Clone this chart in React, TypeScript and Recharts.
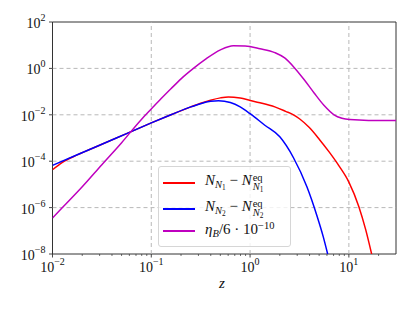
import React from "react";
import { LineChart, Line, XAxis, YAxis, ReferenceLine, ReferenceArea } from "recharts";

// values
const zN1 = [0.01, 0.0126, 0.0178, 0.0316, 0.0562, 0.1, 0.158, 0.251, 0.316, 0.398, 0.501, 0.603, 0.794, 1, 1.26, 1.78, 2.29, 2.75, 3.16, 3.98, 5.01, 6.31, 7.94, 10, 12.6, 14.8, 17];
const valN1 = [4.27e-5, 8.9e-5, 1.86e-4, 5.37e-4, 1.55e-3, 4.47e-3, 1.0e-2, 2.19e-2, 3.16e-2, 4.27e-2, 5.37e-2, 5.89e-2, 5.25e-2, 4.17e-2, 3.31e-2, 2.19e-2, 1.41e-2, 1.0e-2, 6.76e-3, 2.82e-3, 8.9e-4, 2.51e-4, 6.3e-5, 1.26e-5, 1.12e-6, 1.12e-7, 1e-8];

const zN2 = [0.01, 0.0178, 0.0316, 0.0562, 0.1, 0.158, 0.251, 0.316, 0.398, 0.479, 0.631, 0.794, 1, 1.41, 2.0, 2.75, 3.76, 4.75, 5.5, 6.1];
const valN2 = [6.6e-5, 1.9e-4, 5.37e-4, 1.55e-3, 4.47e-3, 1.0e-2, 2.19e-2, 3.02e-2, 3.8e-2, 4.07e-2, 3.39e-2, 2.19e-2, 1.12e-2, 3.55e-3, 1.12e-3, 1.41e-4, 7.9e-6, 4.47e-7, 5.6e-8, 1e-8];

const zEta = [0.01, 0.0126, 0.02, 0.0316, 0.0501, 0.0794, 0.1, 0.126, 0.158, 0.2, 0.267, 0.355, 0.501, 0.676, 0.891, 1.26, 1.78, 2.24, 2.82, 3.55, 4.47, 5.62, 7.08, 8.51, 10.2, 15.8, 30];
const valEta = [3.55e-7, 1e-6, 7.9e-6, 7.1e-5, 6.3e-4, 6.3e-3, 1.78e-2, 5.0e-2, 0.132, 0.355, 1.0, 2.51, 6.3, 9.55, 9.33, 7.08, 4.79, 2.82, 1.05, 0.316, 0.085, 0.0251, 0.01, 0.0071, 0.0062, 0.00575, 0.00575];

const xMajor = [0.01, 0.1, 1, 10];
const xMinor = [0.02, 0.03, 0.04, 0.05, 0.06, 0.07, 0.08, 0.09, 0.2, 0.3, 0.4, 0.5, 0.6, 0.7, 0.8, 0.9, 2, 3, 4, 5, 6, 7, 8, 9, 20];
const yMajor = [1e-8, 1e-6, 1e-4, 1e-2, 1, 100];

const toRows = (zs: number[], vs: number[]) => zs.map((z, i) => ({ z, v: vs[i] }));
const dataN1 = toRows(zN1, valN1);
const dataN2 = toRows(zN2, valN2);
const dataEta = toRows(zEta, valEta);

const FONT = "'Liberation Serif', 'DejaVu Serif', serif";
const AXIS = "#333";

const expLabel = (e: number) => (e < 0 ? "\u2212" + Math.abs(e) : String(e));

const XTick = (props: any) => {
  const { x, y, payload } = props;
  const e = Math.log10(payload.value);
  const major = Math.abs(e - Math.round(e)) < 1e-6;
  return (
    <g>
      <line x1={x} x2={x} y1={y} y2={y + (major ? 3.5 : 2)} stroke={AXIS} strokeWidth={major ? 0.9 : 0.7} />
      {major && (
        <text x={x} y={y + 18} textAnchor="middle" fontFamily={FONT} fontSize={14} fill="#111">
          10<tspan dy={-7} fontSize={10}>{expLabel(Math.round(e))}</tspan>
        </text>
      )}
    </g>
  );
};

const YTick = (props: any) => {
  const { x, y, payload } = props;
  const e = Math.round(Math.log10(payload.value));
  return (
    <g>
      <line x1={x - 3.5} x2={x} y1={y} y2={y} stroke={AXIS} strokeWidth={0.9} />
      <text x={x - 7} y={y + 6} textAnchor="end" fontFamily={FONT} fontSize={14} fill="#111">
        10<tspan dy={-7} fontSize={10}>{expLabel(e)}</tspan>
      </text>
    </g>
  );
};

const Stack = ({ sup, sub }: { sup: React.ReactNode; sub: React.ReactNode }) => (
  <span style={{ display: "inline-flex", flexDirection: "column", verticalAlign: "0.38em", fontSize: "0.7em", lineHeight: 0.9, marginLeft: 1 }}>
    <span>{sup}</span>
    <span>{sub}</span>
  </span>
);

const Sub = ({ children }: { children: React.ReactNode }) => (
  <span style={{ fontSize: "0.7em", verticalAlign: "-0.3em" }}>{children}</span>
);

const legendItems = [
  {
    color: "#ff0000",
    top: 16,
    label: (
      <>
        <i>N</i>
        <Sub><i>N</i><Sub>1</Sub></Sub>
        {" \u2212 "}
        <i>N</i>
        <Stack sup="eq" sub={<><i>N</i><Sub>1</Sub></>} />
      </>
    ),
  },
  {
    color: "#0000ff",
    top: 41.5,
    label: (
      <>
        <i>N</i>
        <Sub><i>N</i><Sub>2</Sub></Sub>
        {" \u2212 "}
        <i>N</i>
        <Stack sup="eq" sub={<><i>N</i><Sub>2</Sub></>} />
      </>
    ),
  },
  {
    color: "#bf00bf",
    top: 64,
    label: (
      <>
        <i>η</i>
        <Sub><i>B</i></Sub>
        /6 · 10
        <span style={{ fontSize: "0.7em", verticalAlign: "0.5em" }}>{"\u2212"}10</span>
      </>
    ),
  },
];

const ChartLegend = () => (
  <div
    style={{
      position: "absolute",
      left: 158,
      top: 166,
      width: 131,
      height: 79,
      border: "1px solid #d6d6d6",
      borderRadius: 3,
      background: "rgba(255,255,255,0.8)",
      fontFamily: FONT,
      fontSize: 15,
      color: "#111",
    }}
  >
    {legendItems.map((it, i) => (
      <div key={i}>
        <div style={{ position: "absolute", left: 4, top: it.top - 1, width: 32, height: 2, background: it.color }} />
        <div style={{ position: "absolute", left: 46, top: it.top - 10, lineHeight: 1, whiteSpace: "nowrap" }}>{it.label}</div>
      </div>
    ))}
  </div>
);

export default function App() {
  return (
    <div style={{ position: "absolute", left: 0, top: 0, width: 415, height: 312, background: "#fff" }}>
      <LineChart width={415} height={312} margin={{ top: 22, right: 19, bottom: 18, left: 8 }}>
        <XAxis
          dataKey="z"
          type="number"
          scale="log"
          domain={[0.01, 30]}
          allowDataOverflow
          ticks={[...xMajor, ...xMinor]}
          interval={0}
          tick={<XTick />}
          tickSize={0}
          tickMargin={0}
          tickLine={false}
          axisLine={false}
          height={40}
        />
        <YAxis
          dataKey="v"
          type="number"
          scale="log"
          domain={[1e-8, 100]}
          allowDataOverflow
          ticks={yMajor}
          interval={0}
          tick={<YTick />}
          tickSize={0}
          tickMargin={0}
          tickLine={false}
          axisLine={false}
          width={44.5}
        />
        {[0.1, 1, 10].map((v) => (
          <ReferenceLine key={"gx" + v} x={v} stroke="#b0b0b0" strokeWidth={0.9} strokeDasharray="4 3" />
        ))}
        {[1e-6, 1e-4, 1e-2, 1].map((v) => (
          <ReferenceLine key={"gy" + v} y={v} stroke="#b0b0b0" strokeWidth={0.9} strokeDasharray="4 3" />
        ))}
        <ReferenceArea x1={0.01} x2={30} y1={1e-8} y2={100} fill="none" stroke={AXIS} strokeWidth={1} />
        <Line data={dataN1} dataKey="v" type="monotone" stroke="#ff0000" strokeWidth={1.5} dot={false} isAnimationActive={false} />
        <Line data={dataN2} dataKey="v" type="monotone" stroke="#0000ff" strokeWidth={1.5} dot={false} isAnimationActive={false} />
        <Line data={dataEta} dataKey="v" type="monotone" stroke="#bf00bf" strokeWidth={1.5} dot={false} isAnimationActive={false} />
      </LineChart>
      <ChartLegend />
      <div style={{ position: "absolute", left: 219, top: 275, fontFamily: FONT, fontStyle: "italic", fontSize: 15, color: "#111" }}>z</div>
    </div>
  );
}
